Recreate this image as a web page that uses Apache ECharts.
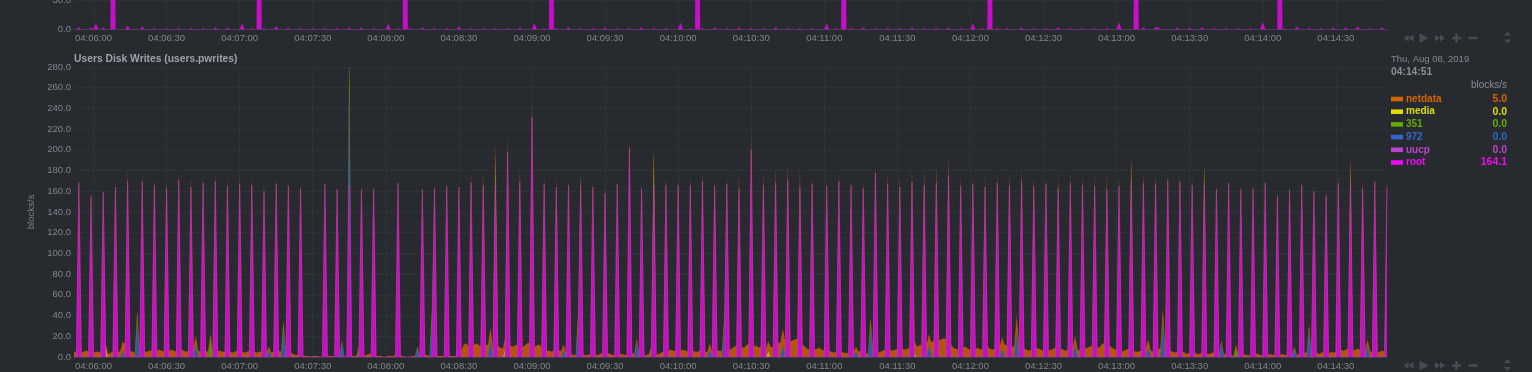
<!DOCTYPE html>
<html>
<head>
<meta charset="utf-8">
<script src="https://cdn.jsdelivr.net/npm/echarts@6/dist/echarts.min.js"></script>
<style>
html,body{margin:0;padding:0;background:#272b30;}
#c{width:1532px;height:372px;}
</style>
</head>
<body>
<div id="c"></div>
<script>
// ---- time axis: one point per second, 04:05:52 .. 04:14:51
const startTime = [4, 5, 52];
const pointCount = 540;

// ---- main chart (users.pwrites), [second index, blocks/s]
const rootSpikes = [[2,168],[7,155],[12,159],[17,164],[22,170],[28,170],[33,166],[38,163],[43,171],[48,164],[53,168],[58,170],[63,165],[68,167],[73,166],[78,160],[83,167],[88,165],[93,163],[103,167],[108,162],[113,165],[118,162],[123,162],[133,168],[143,162],[148,163],[153,165],[158,164],[163,168],[168,166],[173,167],[178,198],[183,169],[188,232],[193,167],[198,164],[203,166],[208,165],[213,164],[218,158],[223,167],[228,202],[233,163],[238,165],[243,166],[248,166],[253,166],
[258,170],[263,165],[268,167],[273,162],[278,200],[283,166],[288,168],[293,171],[298,164],[303,167],[309,165],[314,170],[319,166],[324,163],[329,178],[334,167],[339,164],[344,169],[349,166],[354,168],[359,175],[364,165],[369,167],[374,164],[379,168],[384,166],[389,170],[394,165],[399,167],[404,163],[409,168],[414,166],[419,165],
[424,162],[429,165],[434,170],[439,168],[444,168],[449,171],[454,169],[459,166],[464,168],[469,162],[474,168],[479,162],[484,163],[489,168],[494,156],[499,161],[504,166],[509,160],[514,156],[519,168],[524,169],[529,163],[534,169],[539,164.1]];
const uucpPoints = [[26,2],[147,2],[267,2],[387,2],[507,2]];
const d972Points = [[20,5],[26,30],[50,12],[80,7],[86,26],[110,15],[113,95],[141,9],[147,29],[171,18],[201,7],[207,26],[231,16],[261,7],[267,28],[291,12],[321,6],[327,28],[351,12],[381,8],[387,22],[411,12],[441,10],[447,30],[471,14],[501,8],[507,26],[531,12]];
const d351Points = [[26,9],[56,18],[86,5],[113,8],[117,9],[147,16],[207,16],[237,7],[267,6],[327,6],[387,4],[447,8],[477,10]];
const mediaPoints = [[13,11],[113,12],[173,25],[177,8],[208,7],[238,30],[285,6],[345,5],[434,15],[464,13],[524,15]];
const netdataValues = [
5,5,4,4,5,6,5,4,4,5, 5,4,3,2,3,4,5,5,4,6, 10,12,9,6,5,4,3,3,4,5,
5,6,6,5,6,7,6,5,6,6, 7,6,5,6,7,6,5,6,8,9, 8,6,5,5,6,5,4,5,5,6,
6,5,5,6,5,4,5,6,6,5, 4,5,6,5,5,4,5,5,4,4, 3,4,5,5,6,5,4,3,4,4,
3,2,2,1,1,1,1,0,1,1, 1,0,0,1,1,1,1,0,1,1, 1,1,0,0,1,1,1,2,1,1,
2,3,3,2,1,1,1,0,0,1, 1,1,2,2,1,1,0,0,0,1, 1,1,1,1,2,2,1,1,1,1,
1,1,1,1,1,1,1,1,2,5, 12,13,10,8,11,13,12,10,9,11, 12,10,8,10,11,9,8,10,12,11,
10,11,12,10,9,11,13,14,12,10, 11,12,9,7,6,6,5,6,7,6, 6,5,4,3,3,2,2,3,2,2,
2,2,3,3,2,2,3,4,5,4, 3,2,2,2,3,3,2,2,3,4, 3,2,2,2,1,2,3,3,2,2,
3,4,5,6,6,7,6,6,5,6, 7,6,5,6,6,5,5,6,5,5, 5,6,5,5,6,6,6,5,6,7,
8,10,11,12,10,9,11,13,12,10, 11,9,10,9,8,9,10,9,12,13, 14,15,14,13,15,16,17,18,15,12,
10,8,7,6,7,8,9,7,6,5, 6,5,4,5,6,5,4,4,3,4, 5,4,5,6,5,4,3,4,5,5,
4,5,6,7,8,7,6,7,8,9, 8,7,8,9,10,11,10,11,12,13, 11,10,14,16,15,16,17,18,17,15,
12,9,8,7,8,9,10,8,7,6, 8,9,7,8,9,10,8,7,8,9, 10,11,12,11,10,9,11,12,10,9,
8,7,6,7,8,9,8,7,6,5, 6,7,8,9,10,8,7,6,7,8, 9,8,7,6,7,8,9,10,11,9,
8,10,12,14,13,11,9,8,7,6, 5,6,7,8,7,6,5,5,6,7, 8,7,6,5,6,7,9,8,7,6,
6,5,4,5,6,5,4,3,4,5, 4,3,3,4,4,3,3,4,4,3, 2,2,3,3,2,2,1,2,2,3,
3,2,2,1,2,3,3,2,1,2, 2,3,2,2,1,2,3,2,2,3, 3,2,2,3,3,4,4,3,3,4,
4,3,4,5,4,3,5,4,5,6, 7,6,7,8,7,6,7,8,7,6, 5,5,6,4,3,4,5,6,5,5];

// ---- chart above (only its bottom strip is visible), root series
const topRootSpikes = [[2,2],[7,1.7],[9,6],[12,1.7],[16,350],[22,3.7],[28,3],[33,1],[38,1],[43,1.3],[48,1.3],[53,1],[58,2],[63,1.7],[69,6],[73,1],[76,350],[78,1],[83,3.3],[88,1.3],[93,1.3],[98,1.3],[103,1.3],[108,1.3],[113,1.7],[118,2],[123,1],[129,5.3],[133,1],[136,350],[138,1.3],[143,2],[148,1],[153,1.3],[158,3],[163,1],[168,1],[173,1.3],[178,1.3],[183,1.7],[189,6],[193,1],[196,350],[198,1.3],[203,2],[208,1],[213,1.3],[218,1.7],[223,1],[228,1.3],[233,2],[238,1],[243,1.3],[249,6.5],[253,1],[256,350],[258,1.3],[263,2],[268,1],[273,1.7],[278,1.3],[283,1],[288,2],[293,1.3],[298,1],[303,1.3],[309,6],[313,1],[316,350],[319,1.3],[324,1.7],[329,1],[334,1.3],[339,1.3],[344,2],[349,1],[354,1.3],[359,1.7],[364,1],[369,6],[373,1],[376,350],[379,1.3],[383,1.3],[389,1.7],[394,1],[399,1],[404,2],[409,1],[414,1],[419,1],[424,1],[429,7],[436,350],[439,2],[444,2],[445,2],[453,2],[458,1.7],[463,2],[468,1],[473,1],[478,1],[483,1],[488,7],[495,350],[497,1],[502,2.7],[507,1.3],[512,1.3],[517,2],[522,2],[527,2.7],[532,1],[537,2]];
const topAxisTicks = [0, 30];

const seriesNames = ['netdata','media','351','972','uucp','root'];
const seriesColors = {netdata:'#d66300', media:'#dddd00', '351':'#66aa00', '972':'#3366cc', uucp:'#bb44cc', root:'#ef0aef'};
const dateText = 'Thu, Aug 08, 2019';
const unitsText = 'blocks/s';
const titleText = 'Users Disk Writes (users.pwrites)';

// ---- build
const pad = n => (n < 10 ? '0' : '') + n;
const categories = [];
for (let i = 0; i < pointCount; i++) {
  const t = startTime[0] * 3600 + startTime[1] * 60 + startTime[2] + i;
  categories.push(pad(Math.floor(t / 3600)) + ':' + pad(Math.floor(t / 60) % 60) + ':' + pad(t % 60));
}
function fromPoints(points) {
  const arr = new Array(pointCount).fill(0);
  points.forEach(p => { arr[p[0]] = p[1]; });
  return arr;
}
const dataBy = {
  root: fromPoints(rootSpikes),
  uucp: fromPoints(uucpPoints),
  '972': fromPoints(d972Points),
  '351': fromPoints(d351Points),
  media: fromPoints(mediaPoints),
  netdata: netdataValues.slice(0, pointCount)
};
const topRoot = fromPoints(topRootSpikes);

const LABEL = '#80858b';
const GRID = '#2c3336';
const tickFn = (i, v) => /:(00|30)$/.test(v);
const font = 'Liberation Sans, Arial, sans-serif';

function xAxis(gridIndex) {
  return {
    type: 'category', gridIndex, data: categories, boundaryGap: false,
    axisLine: {show: true, lineStyle: {color: '#3b4047'}},
    axisTick: {show: false},
    axisLabel: {interval: tickFn, color: LABEL, fontSize: 9.5, margin: 4, fontFamily: font},
    splitLine: {show: true, interval: tickFn, lineStyle: {color: GRID, width: 1}}
  };
}

const stackOrder = ['root','uucp','972','351','media','netdata']; // bottom -> top
const mainSeries = stackOrder.map(name => ({
  name, type: 'line', xAxisIndex: 1, yAxisIndex: 1, stack: 'main',
  data: dataBy[name], symbol: 'none', animation: false,
  lineStyle: {color: seriesColors[name], width: name === 'root' ? 1.2 : 0.3, opacity: name === 'root' ? 0.55 : 0.25},
  itemStyle: {color: seriesColors[name]},
  areaStyle: {color: seriesColors[name], opacity: 0.8}
}));

const topSeries = {
  name: 'root-top', type: 'line', xAxisIndex: 0, yAxisIndex: 0,
  data: topRoot, symbol: 'none', animation: false,
  lineStyle: {color: '#ef0aef', width: 0.6, opacity: 0.4},
  areaStyle: {color: '#ef0aef', opacity: 0.8}
};

// ---- legend panel & controls as graphics
const graphics = [];
graphics.push({type: 'text', left: 74, top: 54, style: {text: titleText, fill: '#9ba3ad', font: 'bold 10.3px ' + font}});
// top strip: highest tick label sits on the window edge and is cut in half
graphics.push({type: 'text', x: 71, y: 0, style: {text: topAxisTicks[1].toFixed(1), fill: LABEL, font: '9.5px ' + font, textAlign: 'right', textVerticalAlign: 'middle'}});
graphics.push({type: 'text', x: 1391, y: 59, style: {text: dateText, fill: '#858a90', font: '9.5px ' + font, textVerticalAlign: 'middle'}});
graphics.push({type: 'text', x: 1391, y: 72.5, style: {text: categories[pointCount - 1], fill: '#8b9096', font: 'bold 10.3px ' + font, textVerticalAlign: 'middle'}});
graphics.push({type: 'text', x: 1507, y: 85, style: {text: unitsText, fill: '#8a8f95', font: '10px ' + font, textAlign: 'right', textVerticalAlign: 'middle'}});
seriesNames.forEach((name, i) => {
  const y = 99 + i * 12.7;
  const c = seriesColors[name];
  const last = dataBy[name][pointCount - 1];
  graphics.push({type: 'rect', shape: {x: 1391, y: y - 2.3, width: 12, height: 4.6}, style: {fill: c}});
  graphics.push({type: 'text', x: 1406, y, style: {text: name, fill: c, font: 'bold 10px ' + font, textVerticalAlign: 'middle'}});
  graphics.push({type: 'text', x: 1507, y, style: {text: last.toFixed(1), fill: c, font: 'bold 10.5px ' + font, textAlign: 'right', textVerticalAlign: 'middle'}});
});
function controls(cy) {
  const col = '#474c52';
  const poly = pts => ({type: 'polygon', shape: {points: pts}, style: {fill: col}});
  graphics.push(poly([[1408.5, cy - 3.5], [1403.5, cy], [1408.5, cy + 3.5]]));
  graphics.push(poly([[1413.5, cy - 3.5], [1408.5, cy], [1413.5, cy + 3.5]]));
  graphics.push(poly([[1419.5, cy - 5], [1428.5, cy], [1419.5, cy + 5]]));
  graphics.push(poly([[1435, cy - 3.5], [1440, cy], [1435, cy + 3.5]]));
  graphics.push(poly([[1440, cy - 3.5], [1445, cy], [1440, cy + 3.5]]));
  graphics.push({type: 'rect', shape: {x: 1452, y: cy - 1.2, width: 9, height: 2.4}, style: {fill: col}});
  graphics.push({type: 'rect', shape: {x: 1455.3, y: cy - 4.5, width: 2.4, height: 9}, style: {fill: col}});
  graphics.push({type: 'rect', shape: {x: 1468.5, y: cy - 1.2, width: 9, height: 2.4}, style: {fill: col}});
  graphics.push(poly([[1504, cy - 2.5], [1507.5, cy - 6.5], [1511, cy - 2.5]]));
  graphics.push(poly([[1504, cy + 1.5], [1507.5, cy + 5.5], [1511, cy + 1.5]]));
}
controls(38);
controls(365.5);

const option = {
  backgroundColor: '#272b30',
  animation: false,
  textStyle: {fontFamily: font},
  grid: [
    {left: 74, right: 145, top: 0, bottom: 342.5},
    {left: 74, right: 145, top: 67, bottom: 15}
  ],
  xAxis: [xAxis(0), xAxis(1)],
  yAxis: [
    {type: 'value', gridIndex: 0, min: topAxisTicks[0], max: topAxisTicks[1], interval: 30,
     axisLine: {show: false}, axisTick: {show: false},
     axisLabel: {color: LABEL, fontSize: 9.5, margin: 3, showMaxLabel: false, formatter: v => v.toFixed(1), fontFamily: font},
     splitLine: {lineStyle: {color: GRID}}},
    {type: 'value', gridIndex: 1, min: 0, max: 280, interval: 20,
     name: unitsText, nameLocation: 'middle', nameGap: 37,
     nameTextStyle: {color: LABEL, fontSize: 9.5, fontFamily: font},
     axisLine: {show: false}, axisTick: {show: false},
     axisLabel: {color: LABEL, fontSize: 9.5, margin: 3, formatter: v => v.toFixed(1), fontFamily: font},
     splitLine: {lineStyle: {color: GRID}}}
  ],
  series: [topSeries].concat(mainSeries),
  graphic: graphics
};
const chart = echarts.init(document.getElementById('c'));
chart.setOption(option);
</script>
</body>
</html>
